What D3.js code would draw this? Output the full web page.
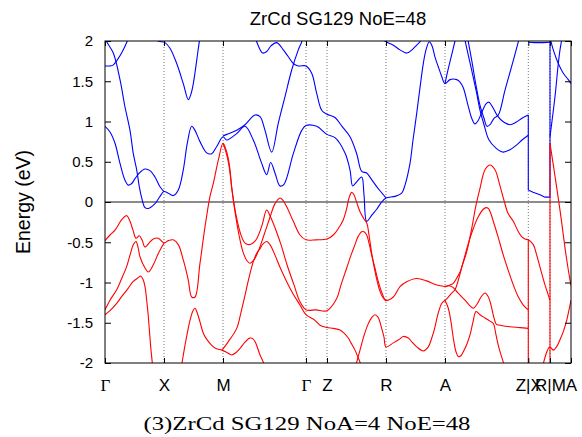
<!DOCTYPE html>
<html><head><meta charset="utf-8">
<script src="https://cdn.jsdelivr.net/npm/d3@7"></script>
<style>body{margin:0;background:#fff}svg{display:block}</style>
</head><body><svg id="c" width="582" height="437"></svg>
<script>
// ---- data ----
const kPoints = [0, 0.59, 1.18, 2.01, 2.22, 2.81, 3.40, 4.233, 4.45, 4.66];
const kLabels = ["Γ","X","M","Γ","Z","R","A","Z|X","R|M","A"];
const yTicks = [2,1.5,1,0.5,0,-0.5,-1,-1.5,-2];
const yTickLabels = ["2","1.5","1","0.5","0","-0.5","-1","-1.5","-2"];

// conduction bands (blue), [k, E]
const blue1 = [[0,2.04],[0.017,1.99],[0.083,1.85],[0.15,1.52],[0.2,1.18],[0.25,0.89],[0.283,0.6],[0.317,0.4],[0.343,0.19],[0.367,0.05],[0.4,-0.07],[0.433,-0.08],[0.5,-0.02],[0.55,0.07],[0.59,0.13],
 [0.633,0.11],[0.683,0.08],[0.733,0.15],[0.783,0.4],[0.823,0.73],[0.867,0.94],[0.9,0.89],[0.95,0.75],[1.017,0.61],[1.067,0.6],[1.117,0.69],[1.18,0.81],
 [1.217,0.77],[1.317,0.85],[1.4,0.94],[1.483,0.77],[1.567,0.48],[1.617,0.34],[1.657,0.49],[1.7,0.36],[1.75,0.2],[1.79,0.22],[1.883,0.6],[1.967,0.89],[2.01,0.95],
 [2.117,0.94],[2.22,0.84],[2.3,0.8],[2.4,0.61],[2.45,0.4],[2.477,0.2],[2.517,0.25],[2.567,0.31],[2.59,0.09],[2.617,-0.24],[2.67,-0.16],[2.717,-0.09],[2.76,-0.01],[2.81,0.05],
 [2.9,0.07],[2.967,0.11],[3.0,0.21],[3.05,0.48],[3.08,0.77],[3.117,1.1],[3.15,1.42],[3.183,1.72],[3.21,1.89],[3.243,1.99],[3.27,1.94],[3.3,1.8],[3.33,1.69],[3.367,1.56],[3.4,1.47],
 [3.45,1.52],[3.517,1.52],[3.55,1.49],[3.583,1.42],[3.63,1.2],[3.67,1.03],[3.7,0.97],[3.73,1.01],[3.77,1.12],[3.81,1.22],[3.84,1.24],[3.88,1.17],[3.92,1.08],[3.97,1.01],[4.05,0.96],[4.11,0.99],[4.17,1.04],[4.233,1.08]];
const blue2 = [[0,0.94],[0.05,0.87],[0.1,0.73],[0.15,0.48],[0.2,0.27],[0.233,0.21],[0.267,0.23],[0.3,0.29],[0.343,0.36],[0.4,0.41],[0.45,0.39],[0.5,0.31],[0.55,0.19],[0.59,0.13]];
const blue3 = [[0,1.69],[0.05,1.69],[0.08,1.7],[0.12,1.76],[0.17,1.86],[0.22,1.99],[0.24,2.06]];
const blue4 = [[0.45,2.07],[0.533,2.0],[0.6,1.98],[0.65,1.91],[0.717,1.72],[0.783,1.47],[0.833,1.27],[0.857,1.33],[0.883,1.47],[0.917,1.76],[0.943,1.99],[0.955,2.07]];
const blue5 = [[1.5,2.07],[1.517,1.99],[1.577,1.85],[1.617,1.87],[1.66,1.94],[1.717,1.98],[1.783,1.89],[1.83,1.81],[1.883,1.72],[1.933,1.69],[2.01,1.69],
 [2.067,1.6],[2.117,1.35],[2.167,1.14],[2.22,1.09],[2.3,1.05],[2.37,0.94],[2.45,0.81],[2.517,0.6],[2.567,0.38],[2.617,0.36],[2.66,0.29],[2.717,0.19],[2.77,0.11],[2.81,0.05]];
const blue6 = [[1.18,0.82],[1.217,0.84],[1.317,0.89],[1.4,0.96],[1.5,1.08],[1.55,1.06],[1.6,0.89],[1.667,0.62],[1.733,0.98],[1.8,1.31],[1.867,1.64],[1.933,1.89],[1.967,1.99],[1.98,2.07]];
const blue7 = [[2.76,2.04],[2.81,1.99],[2.88,1.95],[2.95,1.89],[3.017,1.85],[3.07,1.89],[3.117,1.95],[3.15,1.99],[3.17,2.05]];
const blue8 = [[3.4,1.47],[3.43,1.64],[3.467,1.83],[3.5,2.0],[3.515,2.07]];
const blue9 = [[3.57,2.2],[3.6,2.01],[3.65,1.73],[3.717,1.35],[3.75,1.14],[3.79,0.96],[3.84,0.77],[3.91,0.67],[3.98,0.62],[4.05,0.65],[4.117,0.71],[4.17,0.77],[4.233,0.83]];
const blue10 = [[3.6,2.2],[3.63,2.01],[3.67,1.74],[3.71,1.45],[3.75,1.2],[3.79,1.04],[3.82,0.94],[3.85,0.96],[3.89,1.04],[3.933,1.08],[4.0,1.39],[4.07,1.7],[4.133,1.99],[4.15,2.07]];
const blue11 = [[4.45,0.81],[4.5,1.31],[4.533,1.72],[4.55,1.89],[4.565,2.0],[4.575,2.09]];
const blue12 = [[4.45,2.04],[4.483,1.89],[4.533,1.72],[4.583,1.6],[4.633,1.52],[4.66,1.47]];
const blueXR = [[4.233,1.08],[4.233,0.15],[4.28,0.12],[4.35,0.09],[4.4,0.06],[4.45,0.06],[4.45,2.1]];
const blueTop = [[4.233,1.985],[4.3,1.98],[4.38,1.98],[4.45,1.985]];

// valence bands (red), [k, E]
const red1 = [[0,-0.48],[0.05,-0.41],[0.1,-0.35],[0.167,-0.22],[0.217,-0.17],[0.25,-0.24],[0.28,-0.35],[0.31,-0.45],[0.343,-0.42],[0.37,-0.47],[0.4,-0.56],[0.44,-0.51],[0.483,-0.46],[0.533,-0.45],[0.59,-0.51],
 [0.633,-0.48],[0.683,-0.47],[0.733,-0.53],[0.783,-0.72],[0.833,-0.97],[0.867,-1.18],[0.9,-1.18],[0.95,-0.76],[1.0,-0.31],[1.05,0.07],[1.083,0.23],[1.133,0.52],[1.18,0.73],
 [1.21,0.65],[1.233,0.54],[1.25,0.4],[1.27,0.15],[1.31,-0.16],[1.36,-0.41],[1.4,-0.51],[1.44,-0.53],[1.48,-0.51],[1.52,-0.45],[1.57,-0.29],[1.617,-0.1],[1.65,-0.17],[1.7,-0.32],[1.76,-0.53],[1.82,-0.78],[1.89,-1.03],[1.95,-1.24],[2.01,-1.34],
 [2.11,-1.34],[2.22,-1.35],[2.317,-1.2],[2.36,-1.03],[2.417,-0.82],[2.46,-0.66],[2.5,-0.53],[2.53,-0.43],[2.567,-0.37],[2.59,-0.37],[2.617,-0.41],[2.64,-0.51],[2.667,-0.66],[2.7,-0.82],[2.733,-0.99],[2.77,-1.13],[2.81,-1.22],
 [2.883,-1.18],[2.95,-1.05],[3.017,-0.99],[3.117,-0.95],[3.217,-0.98],[3.317,-1.03],[3.4,-1.05]];
const red2 = [[0,-1.34],[0.05,-1.22],[0.117,-1.09],[0.16,-0.97],[0.217,-0.8],[0.25,-0.66],[0.283,-0.53],[0.31,-0.49],[0.33,-0.56],[0.35,-0.68],[0.4,-0.82],[0.433,-0.87],[0.483,-0.78],[0.533,-0.64],[0.59,-0.51]];
const red3 = [[0,-1.4],[0.05,-1.35],[0.117,-1.26],[0.17,-1.17],[0.233,-1.07],[0.28,-0.99],[0.333,-0.94],[0.357,-0.92],[0.38,-0.96],[0.4,-1.05],[0.417,-1.22],[0.433,-1.42],[0.457,-1.8],[0.473,-2.0],[0.485,-2.19]];
const red4 = [[1.18,0.73],[1.21,0.62],[1.24,0.45],[1.27,0.15],[1.3,-0.12],[1.34,-0.41],[1.38,-0.62],[1.42,-0.73],[1.45,-0.76],[1.49,-0.72],[1.53,-0.62],[1.59,-0.41],[1.65,-0.19],[1.7,-0.02],[1.75,0.05],[1.78,0.02],[1.817,-0.06],[1.883,-0.24],[1.95,-0.41],[2.01,-0.47],
 [2.11,-0.47],[2.22,-0.46],[2.283,-0.41],[2.333,-0.33],[2.383,-0.22],[2.417,-0.08],[2.44,0.05],[2.467,0.12],[2.49,0.09],[2.51,0.02],[2.55,-0.12],[2.59,-0.21],[2.62,-0.27],[2.64,-0.41],[2.67,-0.66],[2.71,-0.92],[2.75,-1.11],[2.78,-1.19],[2.81,-1.23]];
const red5 = [[1.17,-1.84],[1.23,-1.74],[1.317,-1.57],[1.36,-1.37],[1.4,-1.16],[1.44,-0.94],[1.483,-0.74],[1.52,-0.63],[1.55,-0.58],[1.58,-0.52],[1.617,-0.49],[1.65,-0.53],[1.7,-0.66],[1.75,-0.81],[1.817,-0.99],[1.88,-1.14],[1.95,-1.28],[2.01,-1.4],
 [2.1,-1.47],[2.15,-1.53],[2.22,-1.56],[2.283,-1.57],[2.35,-1.59],[2.39,-1.63],[2.433,-1.69],[2.46,-1.75],[2.5,-1.84],[2.53,-1.93],[2.55,-1.99],[2.57,-2.09]];
const red6 = [[0.755,-2.11],[0.77,-2.0],[0.8,-1.78],[0.85,-1.47],[0.88,-1.35],[0.9,-1.32],[0.92,-1.37],[0.95,-1.49],[0.983,-1.63],[1.02,-1.71],[1.067,-1.78],[1.11,-1.82],[1.17,-1.84],
 [1.22,-1.87],[1.267,-1.9],[1.31,-1.87],[1.35,-1.82],[1.4,-1.74],[1.45,-1.69],[1.48,-1.7],[1.51,-1.76],[1.55,-1.9],[1.583,-1.99],[1.61,-2.11]];
const red7 = [[2.49,-2.11],[2.517,-1.99],[2.55,-1.84],[2.59,-1.66],[2.63,-1.52],[2.67,-1.43],[2.7,-1.4],[2.73,-1.43],[2.767,-1.57],[2.79,-1.68],[2.81,-1.8],
 [2.883,-1.75],[2.95,-1.7],[2.983,-1.67],[3.033,-1.69],[3.07,-1.74],[3.117,-1.8],[3.183,-1.85],[3.233,-1.8],[3.27,-1.68],[3.3,-1.55],[3.33,-1.39],[3.367,-1.26],[3.4,-1.22]];
const red8 = [[3.4,-1.05],[3.45,-1.03],[3.483,-1.01],[3.52,-0.94],[3.55,-0.87],[3.58,-0.76],[3.617,-0.62],[3.667,-0.33],[3.71,-0.04],[3.75,0.17],[3.8,0.4],[3.85,0.46],[3.9,0.4],[3.95,0.2],[3.99,0.02],[4.03,-0.14],[4.083,-0.24],[4.13,-0.36],[4.167,-0.43],[4.2,-0.46],[4.233,-0.47],
 [4.283,-0.53],[4.317,-0.66],[4.35,-0.81],[4.4,-1.03],[4.45,-1.22]];
const red9 = [[3.4,-1.05],[3.44,-1.04],[3.48,-1.06],[3.53,-1.13],[3.6,-1.22],[3.65,-1.29],[3.683,-1.32],[3.72,-1.27],[3.76,-1.18],[3.8,-1.13],[3.83,-1.17],[3.86,-1.28],[3.89,-1.44],[3.915,-1.52],[3.95,-1.53],[4.05,-1.55],[4.15,-1.56],[4.233,-1.57]];
const red10 = [[3.4,-1.22],[3.42,-1.2],[3.46,-1.14],[3.5,-1.09],[3.54,-0.94],[3.583,-0.74],[3.63,-0.53],[3.683,-0.33],[3.73,-0.19],[3.783,-0.09],[3.81,-0.07],[3.833,-0.08],[3.86,-0.15],[3.883,-0.24],[3.93,-0.43],[3.983,-0.66],[4.03,-0.84],[4.083,-1.03],[4.13,-1.17],[4.183,-1.28],[4.233,-1.34]];
const red11 = [[3.4,-1.22],[3.433,-1.32],[3.46,-1.49],[3.483,-1.69],[3.51,-1.86],[3.533,-1.92],[3.56,-1.91],[3.583,-1.86],[3.62,-1.76],[3.65,-1.65],[3.68,-1.49],[3.71,-1.36],[3.75,-1.4],[3.8,-1.44],[3.85,-1.48],[3.883,-1.51],[3.91,-1.65],[3.933,-1.78],[3.96,-1.9],[3.983,-1.99],[4.0,-2.09]];
const red12 = [[4.45,0.73],[4.5,0.32],[4.55,-0.1],[4.6,-0.57],[4.63,-0.82],[4.66,-1.04]];
const red13 = [[4.383,-2.01],[4.405,-1.91],[4.433,-1.82],[4.45,-1.8],[4.483,-1.84],[4.52,-1.79],[4.55,-1.71],[4.583,-1.61],[4.617,-1.47],[4.64,-1.34],[4.66,-1.22]];
const redJumpZX = [[4.233,-0.47],[4.233,-2.1]];
const redJumpRM = [[4.45,0.73],[4.45,-2.1]];

const blueBands = [blue1,blue2,blue3,blue4,blue5,blue6,blue7,blue8,blue9,blue10,blue11,blue12];
const blueJumps = [blueXR, blueTop];
const redBands = [red1,red2,red3,red4,red5,red6,red7,red8,red9,red10,red11,red12,red13];
const redJumps = [redJumpZX, redJumpRM];

// ---- drawing ----
const svg = d3.select("#c");
const m = {l:105, r:571, t:41, b:363};
const x = d3.scaleLinear().domain([0, 4.66]).range([m.l, m.r]);
const y = d3.scaleLinear().domain([-2, 2]).range([m.b, m.t]);

svg.append("defs").append("clipPath").attr("id","clip")
  .append("rect").attr("x",m.l).attr("y",m.t).attr("width",m.r-m.l).attr("height",m.b-m.t);

// k-point dotted lines
svg.append("g").selectAll("line").data(kPoints.slice(1,-1)).join("line")
  .attr("x1",d=>x(d)).attr("x2",d=>x(d)).attr("y1",m.t).attr("y2",m.b)
  .attr("stroke","#777").attr("stroke-width",1).attr("stroke-dasharray","1,2");

// zero line
svg.append("line").attr("x1",m.l).attr("x2",m.r).attr("y1",y(0)).attr("y2",y(0))
  .attr("stroke","#666").attr("stroke-width",1.5);

const smooth = d3.line().x(d=>x(d[0])).y(d=>y(d[1])).curve(d3.curveCatmullRom.alpha(0.5));
const straight = d3.line().x(d=>x(d[0])).y(d=>y(d[1]));

const g = svg.append("g").attr("clip-path","url(#clip)").attr("fill","none").attr("stroke-width",1.1);
g.selectAll(".bb").data(blueBands).join("path").attr("d",smooth).attr("stroke","#0000ff");
g.selectAll(".bj").data(blueJumps).join("path").attr("d",straight).attr("stroke","#0000ff");
g.selectAll(".rb").data(redBands).join("path").attr("d",smooth).attr("stroke","#ff0000");
g.selectAll(".rj").data(redJumps).join("path").attr("d",straight).attr("stroke","#ff0000");

// axes
const font = "'Liberation Sans', Arial, sans-serif";
const yl = svg.append("g").attr("transform",`translate(${m.l},0)`)
  .call(d3.axisLeft(y).tickValues(yTicks).tickFormat((d,i)=>yTickLabels[i]).tickSize(-6).tickSizeOuter(0).tickPadding(12));
const yr = svg.append("g").attr("transform",`translate(${m.r},0)`)
  .call(d3.axisRight(y).tickValues(yTicks).tickFormat("").tickSize(-6).tickSizeOuter(0));
const xb = svg.append("g").attr("transform",`translate(0,${m.b})`)
  .call(d3.axisBottom(x).tickValues(kPoints).tickFormat((d,i)=>kLabels[i]).tickSize(-5).tickSizeOuter(0).tickPadding(16));
const xt = svg.append("g").attr("transform",`translate(0,${m.t})`)
  .call(d3.axisTop(x).tickValues(kPoints).tickFormat("").tickSize(-5).tickSizeOuter(0));
[yl,yr,xb,xt].forEach(a=>{a.select(".domain").remove();a.selectAll("line").attr("stroke","#000");});
yl.selectAll("text").attr("font-family",font).attr("font-size",15).attr("fill","#000");
xb.selectAll("text").attr("font-family",(d,i)=>kLabels[i]==="Γ"?"'Liberation Serif', serif":font)
  .attr("font-size",17).attr("fill","#000");

// frame
svg.append("rect").attr("x",m.l).attr("y",m.t).attr("width",m.r-m.l).attr("height",m.b-m.t)
  .attr("fill","none").attr("stroke","#000").attr("stroke-width",1);

// title, labels
svg.append("text").attr("x",338).attr("y",25).attr("text-anchor","middle")
  .attr("font-family",font).attr("font-size",18.5).text("ZrCd SG129 NoE=48");
svg.append("text").attr("transform","translate(30,202) rotate(-90)").attr("text-anchor","middle")
  .attr("font-family",font).attr("font-size",19.5).text("Energy (eV)");
svg.append("text").attr("x",307).attr("y",430).attr("text-anchor","middle")
  .attr("font-family","'Liberation Serif', serif").attr("font-size",19)
  .attr("textLength",327).attr("lengthAdjust","spacingAndGlyphs")
  .text("(3)ZrCd SG129 NoA=4 NoE=48");
</script></body></html>
